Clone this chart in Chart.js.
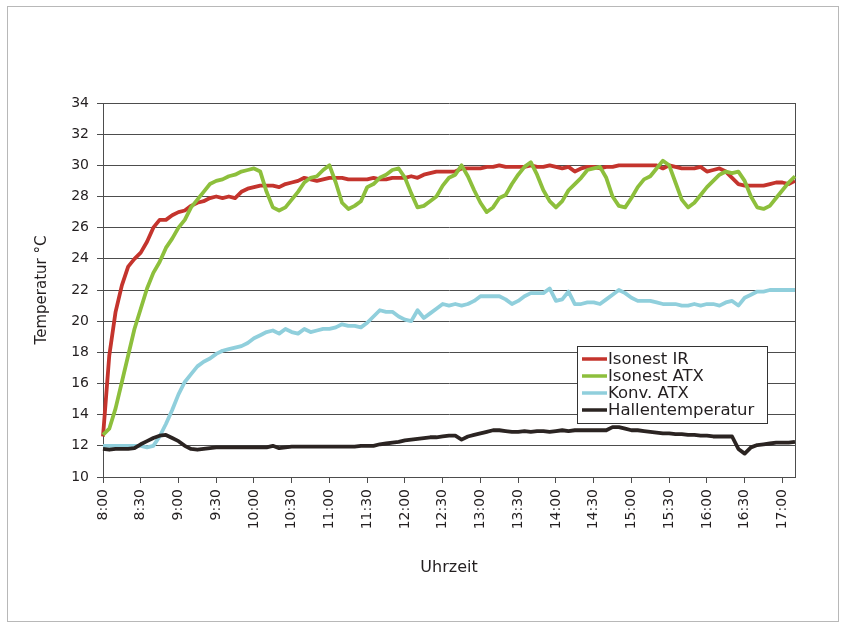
<!DOCTYPE html>
<html>
<head>
<meta charset="utf-8">
<script src="https://cdn.jsdelivr.net/npm/chart.js@4/dist/chart.umd.min.js"></script>
<style>
  html, body { margin: 0; padding: 0; background: #fff; }
  #wrap { position: relative; width: 843px; height: 627px; }
  #frame { position: absolute; left: 7px; top: 6px; width: 830px; height: 614px; border: 1px solid #b8b8b8; pointer-events: none; }
</style>
</head>
<body>
<div id="wrap"><canvas id="chart" width="843" height="627"></canvas><div id="frame"></div></div>
<script>
// Temperature curves, one reading every 5 minutes from 8:00 to 17:10.

const START_MIN = 8 * 60;
const STEP_MIN = 5;
const TICK_EVERY = 6; // a labelled tick every 30 minutes

const isonestIR = [
  12.6, 17.8, 20.6, 22.3, 23.5, 24.0, 24.4, 25.1, 26.0, 26.5, 26.5, 26.8, 27.0, 27.1, 27.4, 27.6, 27.7, 27.9, 28.0, 27.9,
  28.0, 27.9, 28.3, 28.5, 28.6, 28.7, 28.7, 28.7, 28.6, 28.8, 28.9, 29.0, 29.2, 29.1, 29.0, 29.1, 29.2, 29.2, 29.2, 29.1,
  29.1, 29.1, 29.1, 29.2, 29.1, 29.1, 29.2, 29.2, 29.2, 29.3, 29.2, 29.4, 29.5, 29.6, 29.6, 29.6, 29.6, 29.8, 29.8, 29.8,
  29.8, 29.9, 29.9, 30.0, 29.9, 29.9, 29.9, 29.9, 30.0, 29.9, 29.9, 30.0, 29.9, 29.8, 29.9, 29.6, 29.8, 29.9, 29.9, 29.8,
  29.9, 29.9, 30.0, 30.0, 30.0, 30.0, 30.0, 30.0, 30.0, 29.8, 30.0, 29.9, 29.8, 29.8, 29.8, 29.9, 29.6, 29.7, 29.8, 29.6,
  29.2, 28.8, 28.7, 28.7, 28.7, 28.7, 28.8, 28.9, 28.9, 28.8, 29.0,
];
const isonestATX = [
  12.7, 13.1, 14.4, 16.1, 17.8, 19.5, 20.8, 22.1, 23.1, 23.8, 24.7, 25.3, 26.0, 26.5, 27.3, 27.8, 28.3, 28.8, 29.0, 29.1,
  29.3, 29.4, 29.6, 29.7, 29.8, 29.6, 28.3, 27.3, 27.1, 27.3, 27.8, 28.3, 28.9, 29.2, 29.3, 29.7, 30.0, 28.9, 27.6, 27.2,
  27.4, 27.7, 28.6, 28.8, 29.2, 29.4, 29.7, 29.8, 29.2, 28.2, 27.3, 27.4, 27.7, 28.0, 28.7, 29.2, 29.4, 30.0, 29.3, 28.4,
  27.6, 27.0, 27.3, 27.9, 28.1, 28.8, 29.4, 29.9, 30.2, 29.4, 28.4, 27.7, 27.3, 27.7, 28.4, 28.8, 29.2, 29.7, 29.8, 29.9,
  29.2, 28.0, 27.4, 27.3, 27.9, 28.6, 29.1, 29.3, 29.8, 30.3, 30.0, 28.9, 27.8, 27.3, 27.6, 28.1, 28.6, 29.0, 29.4, 29.6,
  29.5, 29.6, 29.0, 28.0, 27.3, 27.2, 27.4, 27.9, 28.4, 28.9, 29.3,
];
const konvATX = [
  12.0, 12.0, 12.0, 12.0, 12.0, 12.0, 12.0, 11.9, 12.0, 12.6, 13.4, 14.3, 15.3, 16.1, 16.6, 17.1, 17.4, 17.6, 17.9, 18.1,
  18.2, 18.3, 18.4, 18.6, 18.9, 19.1, 19.3, 19.4, 19.2, 19.5, 19.3, 19.2, 19.5, 19.3, 19.4, 19.5, 19.5, 19.6, 19.8, 19.7,
  19.7, 19.6, 19.9, 20.3, 20.7, 20.6, 20.6, 20.3, 20.1, 20.0, 20.7, 20.2, 20.5, 20.8, 21.1, 21.0, 21.1, 21.0, 21.1, 21.3,
  21.6, 21.6, 21.6, 21.6, 21.4, 21.1, 21.3, 21.6, 21.8, 21.8, 21.8, 22.1, 21.3, 21.4, 21.9, 21.1, 21.1, 21.2, 21.2, 21.1,
  21.4, 21.7, 22.0, 21.8, 21.5, 21.3, 21.3, 21.3, 21.2, 21.1, 21.1, 21.1, 21.0, 21.0, 21.1, 21.0, 21.1, 21.1, 21.0, 21.2,
  21.3, 21.0, 21.5, 21.7, 21.9, 21.9, 22.0, 22.0, 22.0, 22.0, 22.0,
];
const halle = [
  11.8, 11.75, 11.8, 11.8, 11.8, 11.85, 12.1, 12.3, 12.5, 12.65, 12.7, 12.5, 12.3, 12.0, 11.8, 11.75, 11.8, 11.85, 11.9, 11.9,
  11.9, 11.9, 11.9, 11.9, 11.9, 11.9, 11.9, 12.0, 11.85, 11.9, 11.95, 11.95, 11.95, 11.95, 11.95, 11.95, 11.95, 11.95, 11.95, 11.95,
  11.95, 12.0, 12.0, 12.0, 12.1, 12.15, 12.2, 12.25, 12.35, 12.4, 12.45, 12.5, 12.55, 12.55, 12.6, 12.65, 12.65, 12.4, 12.6, 12.7,
  12.8, 12.9, 13.0, 13.0, 12.95, 12.9, 12.9, 12.95, 12.9, 12.95, 12.95, 12.9, 12.95, 13.0, 12.95, 13.0, 13.0, 13.0, 13.0, 13.0,
  13.0, 13.2, 13.2, 13.1, 13.0, 13.0, 12.95, 12.9, 12.85, 12.8, 12.8, 12.75, 12.75, 12.7, 12.7, 12.65, 12.65, 12.6, 12.6, 12.6,
  12.6, 11.8, 11.5, 11.9, 12.05, 12.1, 12.15, 12.2, 12.2, 12.2, 12.25,
];

const times = isonestIR.map((_, i) => {
  const m = START_MIN + i * STEP_MIN;
  return `${Math.floor(m / 60)}:${String(m % 60).padStart(2, "0")}`;
});

const TEXT = "#231f20";
const GRID = "#4d4d4d";
Chart.defaults.font.family = "'DejaVu Sans', sans-serif";
Chart.defaults.color = TEXT;

// Right edge of the plot box (Excel draws a full frame).
const plotFrame = {
  id: "plotFrame",
  beforeDatasetsDraw(chart) {
    const { ctx, chartArea: a } = chart;
    ctx.save();
    ctx.strokeStyle = GRID;
    ctx.lineWidth = 1;
    ctx.beginPath();
    ctx.moveTo(Math.round(a.right) + 0.5, a.top);
    ctx.lineTo(Math.round(a.right) + 0.5, a.bottom);
    ctx.stroke();
    ctx.restore();
  },
};

// Boxed legend sitting inside the plot, as in the original.
const boxLegend = {
  id: "boxLegend",
  afterDraw(chart) {
    const { ctx } = chart;
    const x = 577, y = 346, w = 190, h = 77, row = 17;
    ctx.save();
    ctx.fillStyle = "#fff";
    ctx.fillRect(x, y, w, h);
    ctx.strokeStyle = "#333";
    ctx.lineWidth = 1;
    ctx.strokeRect(x + 0.5, y + 0.5, w, h);
    ctx.font = "16.5px 'DejaVu Sans'";
    ctx.textBaseline = "middle";
    ctx.fillStyle = TEXT;
    chart.data.datasets.forEach((ds, i) => {
      const cy = y + 13 + i * row;
      ctx.strokeStyle = ds.borderColor;
      ctx.lineWidth = 3.5;
      ctx.beginPath();
      ctx.moveTo(x + 5, cy);
      ctx.lineTo(x + 30, cy);
      ctx.stroke();
      ctx.fillText(ds.label, x + 31, cy + 1);
    });
    ctx.restore();
  },
};

const line = (label, data, color, order) => ({
  label, data, borderColor: color, backgroundColor: color, borderWidth: 3.8,
  pointRadius: 0, tension: 0, borderJoinStyle: "round", order,
});

new Chart(document.getElementById("chart"), {
  type: "line",
  data: {
    labels: times,
    datasets: [
      line("Isonest IR", isonestIR, "#c4342d", 4),
      line("Isonest ATX", isonestATX, "#8dbf3c", 3),
      line("Konv. ATX", konvATX, "#90cfdc", 2),
      line("Hallentemperatur", halle, "#2b2422", 1),
    ],
  },
  options: {
    responsive: false,
    animation: false,
    layout: { padding: { top: 103, right: 48, left: 0, bottom: 0 } },
    plugins: { legend: { display: false }, tooltip: { enabled: false } },
    scales: {
      x: {
        grid: {
          drawOnChartArea: false, tickLength: 6,
          tickColor: (c) => (c.index % TICK_EVERY === 0 ? GRID : "rgba(0,0,0,0)"),
        },
        border: { color: GRID },
        ticks: {
          autoSkip: false, minRotation: 90, maxRotation: 90, padding: 6,
          font: { size: 14 },
          callback: (v, i) => (i % TICK_EVERY === 0 ? times[i] : ""),
        },
        title: { display: true, text: "Uhrzeit", font: { size: 16 }, padding: { top: 0, bottom: 50 } },
        afterFit: (s) => { s.height = 150; },
      },
      y: {
        min: 10, max: 34,
        grid: { color: GRID, tickLength: 6 },
        border: { color: GRID },
        ticks: { stepSize: 2, padding: 8, font: { size: 14 } },
        title: { display: true, text: "Temperatur °C", font: { size: 15 }, padding: { top: 33, bottom: 0 } },
        afterFit: (s) => { s.width = 103; },
      },
    },
  },
  plugins: [plotFrame, boxLegend],
});
</script>
</body>
</html>
